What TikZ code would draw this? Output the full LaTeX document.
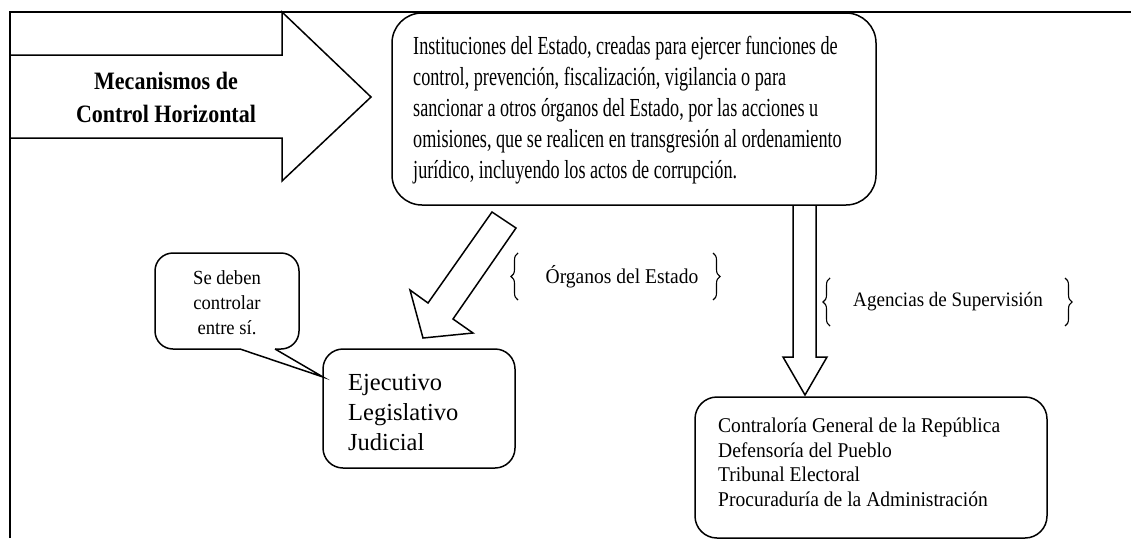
\documentclass[tikz,border=0pt]{standalone}
\usepackage{fontspec}
\setmainfont{Liberation Serif}
\newfontfamily\condfont[FakeStretch=0.70]{Liberation Serif}
\newfontfamily\boldcond[FakeStretch=0.88]{Liberation Serif Bold}
\newfontfamily\slightcond[FakeStretch=0.93]{Liberation Serif}
\usetikzlibrary{decorations.pathreplacing}
\tikzset{
  shape line/.style={line width=1.5pt, line join=miter},
  roundbox/.style={draw, line width=1.5pt, rectangle, inner sep=0pt},
  bracestyle/.style={line width=1.1pt, decorate, decoration={brace, amplitude=7pt}},
  plain/.style={inner sep=0pt, align=left}
}
\begin{document}
\begin{tikzpicture}[x=1pt,y=-1pt]
\useasboundingbox (0,0) rectangle (1131,538);
% frame
\draw[line width=2.2pt] (10,538) -- (10,12) -- (1131,12);
% big right arrow
\draw[shape line] (10,55) -- (282,55) -- (282,12) -- (371,97) -- (282,181) -- (282,138) -- (10,138);
\node[inner sep=0pt, align=center, font=\boldcond\fontsize{25}{33}\selectfont] (mech) at (166,97) {Mecanismos de\\Control Horizontal};
% main box
\node[roundbox, rounded corners=30pt, minimum width=484pt, minimum height=192pt] (main) at (634,109) {};
\node[plain, anchor=north west, font=\condfont\fontsize{26}{31}\selectfont] (maintext) at (413,36)
 {Instituciones del Estado, creadas para ejercer funciones de\\
  control, prevención, fiscalización, vigilancia o para\\
  sancionar a otros órganos del Estado, por las acciones u\\
  omisiones, que se realicen en transgresión al ordenamiento\\
  jurídico, incluyendo los actos de corrupción.};
% diagonal arrow
\draw[shape line] (492,212) -- (516,228) -- (453,319) -- (473,333) -- (423,338) -- (410,290) -- (428,303) -- cycle;
% Ejecutivo box
\node[roundbox, rounded corners=20pt, minimum width=192pt, minimum height=119pt] (poderes) at (419,408.5) {};
\node[plain, anchor=west, font=\fontsize{24.5}{30}\selectfont] (poderestext) at (348,413)
 {Ejecutivo\\Legislativo\\Judicial};
% callout
\draw[line width=1.5pt, rounded corners=18pt] (275,349) -- (299,349) -- (299,253) -- (155,253) -- (155,349) -- (240,349);
\draw[line width=1.5pt] (240,349) -- (323,377) -- (275,349);
\node[inner sep=0pt, align=center, font=\slightcond\fontsize{20}{25}\selectfont] (callout) at (227,303) {Se deben\\controlar\\entre sí.};
% organos label with braces
\node[inner sep=0pt, font=\slightcond\fontsize{21}{24}\selectfont] (organos) at (622,277) {Órganos del Estado};
\draw[bracestyle] (518,300) -- (518,253);
\draw[bracestyle] (713,253) -- (713,300);
% down arrow
\draw[shape line] (793,205) -- (793,357) -- (783,357) -- (805,395) -- (827,357) -- (816,357) -- (816,205);
% agencias label with braces
\node[inner sep=0pt, font=\slightcond\fontsize{20.5}{24}\selectfont] (agencias) at (948,302) {Agencias de Supervisión};
\draw[bracestyle] (830,326) -- (830,278);
\draw[bracestyle] (1065,278) -- (1065,326);
% agencies box
\node[roundbox, rounded corners=22pt, minimum width=352pt, minimum height=141pt] (agbox) at (871,467.5) {};
\node[plain, anchor=north west, font=\slightcond\fontsize{21}{24.5}\selectfont] (agtext) at (718,418)
 {Contraloría General de la República\\Defensoría del Pueblo\\Tribunal Electoral\\Procuraduría de la Administración};
\end{tikzpicture}
\end{document}
